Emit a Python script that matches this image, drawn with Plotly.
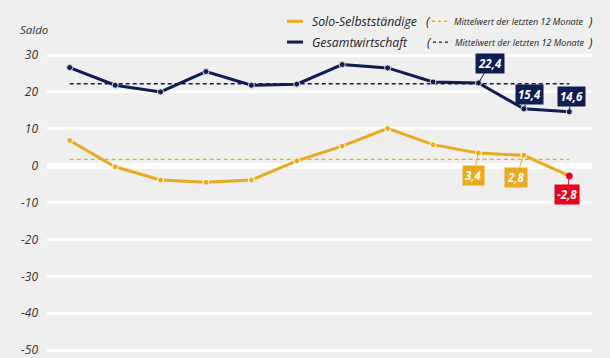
import plotly.graph_objects as go

months = list(range(12))
solo = [6.8, -0.3, -3.9, -4.5, -3.9, 1.3, 5.3, 10.1, 5.7, 3.4, 2.8, -2.8]
gesamt = [26.6, 21.8, 20.0, 25.5, 21.8, 22.1, 27.4, 26.5, 22.7, 22.4, 15.4, 14.6]
solo_mean = 1.7
gesamt_mean = 22.2
y_ticks = [30, 20, 10, 0, -10, -20, -30, -40, -50]

NAVY = "#101c52"
YELLOW = "#eaa91f"
RED = "#e8001c"
BG = "#efefef"
FONT = "Open Sans"

fig = go.Figure()
fig.add_trace(go.Scatter(x=[months[0], months[-1]], y=[gesamt_mean]*2, mode="lines",
                         line=dict(color=NAVY, width=1.3, dash="4px,3px"), hoverinfo="skip"))
fig.add_trace(go.Scatter(x=[months[0], months[-1]], y=[solo_mean]*2, mode="lines",
                         line=dict(color=YELLOW, width=1.3, dash="4px,3px"), hoverinfo="skip"))
fig.add_trace(go.Scatter(x=months, y=gesamt, mode="lines+markers",
                         line=dict(color=NAVY, width=3),
                         marker=dict(size=6, color=NAVY, line=dict(color="#dddddd", width=1))))
solo_colors = [YELLOW]*(len(solo)-1) + [RED]
solo_outline = ["white"]*(len(solo)-1) + [RED]
fig.add_trace(go.Scatter(x=months, y=solo, mode="lines+markers",
                         line=dict(color=YELLOW, width=3),
                         marker=dict(size=6, color=solo_colors, line=dict(color=solo_outline, width=1))))

def fmt(v):
    return f"{v:.1f}".replace(".", ",")

labels = [
    (9, gesamt[9], NAVY, 12, -20),
    (10, gesamt[10], NAVY, 6, -14),
    (11, gesamt[11], NAVY, 2, -15),
    (9, solo[9], YELLOW, -5, 22),
    (10, solo[10], YELLOW, -8, 22),
    (11, solo[11], RED, -2, 19),
]
for i, v, c, ax, ay in labels:
    fig.add_annotation(x=months[i], y=v, text=f"<b><i>{fmt(v)}</i></b>", showarrow=True,
                       arrowhead=0, arrowwidth=1, arrowcolor=c, ax=ax, ay=ay,
                       bgcolor=c, borderpad=2, font=dict(color="white", size=11.5, family=FONT))

# pixel helpers for paper coordinates
L, R, T, H = 47, 592, 48, 310
def px(x): return (x - L) / (R - L)
def py(y): return (358 - y) / H

fig.add_annotation(xref="paper", yref="paper", x=px(18), y=py(29), text="<i>Saldo</i>",
                   showarrow=False, xanchor="left", yanchor="middle",
                   font=dict(size=11.5, color="#333", family=FONT))

rows = [(21, YELLOW, "Solo-Selbstständige", 424), (42, NAVY, "Gesamtwirtschaft", 425)]
for yy, c, name, paren_x in rows:
    fig.add_shape(type="line", xref="paper", yref="paper", x0=px(287), x1=px(303), y0=py(yy), y1=py(yy),
                  line=dict(color=c, width=3))
    fig.add_annotation(xref="paper", yref="paper", x=px(310), y=py(yy), text=f"<i>{name}</i>",
                       showarrow=False, xanchor="left", yanchor="middle",
                       font=dict(size=12.3, color="#222", family=FONT))
    fig.add_annotation(xref="paper", yref="paper", x=px(paren_x), y=py(yy), text="<i>(</i>",
                       showarrow=False, xanchor="left", yanchor="middle",
                       font=dict(size=12.5, color="#222", family=FONT))
    fig.add_shape(type="line", xref="paper", yref="paper", x0=px(paren_x+8), x1=px(paren_x+25),
                  y0=py(yy), y1=py(yy), line=dict(color=c, width=1.3, dash="3px,3px"))
    fig.add_annotation(xref="paper", yref="paper", x=px(paren_x+28), y=py(yy),
                       text="<i>Mittelwert der letzten 12 Monate</i>",
                       showarrow=False, xanchor="left", yanchor="middle",
                       font=dict(size=9, color="#222", family=FONT))
    fig.add_annotation(xref="paper", yref="paper", x=px(586), y=py(yy), text="<i>)</i>",
                       showarrow=False, xanchor="left", yanchor="middle",
                       font=dict(size=12.5, color="#222", family=FONT))

fig.update_layout(
    width=610, height=358, paper_bgcolor=BG, plot_bgcolor=BG,
    margin=dict(l=L, r=610-R, t=T, b=0), showlegend=False,
    xaxis=dict(range=[-0.5, 11.5], showgrid=False, showticklabels=False, zeroline=False),
    yaxis=dict(range=[-51.34, 31.9], tickvals=y_ticks, ticktext=[str(t) for t in y_ticks],
               gridcolor="white", gridwidth=3, zeroline=True, zerolinecolor="white", zerolinewidth=6,
               ticklabelstandoff=8, ticklabeloverflow="allow",
               tickfont=dict(size=12, color="#333", family=FONT + ", sans-serif", style="italic")),
)
fig.write_html("out.html", config={"displayModeBar": False},
               post_script="document.body.style.margin='0';document.body.style.overflow='hidden';document.body.style.background='#efefef';")
